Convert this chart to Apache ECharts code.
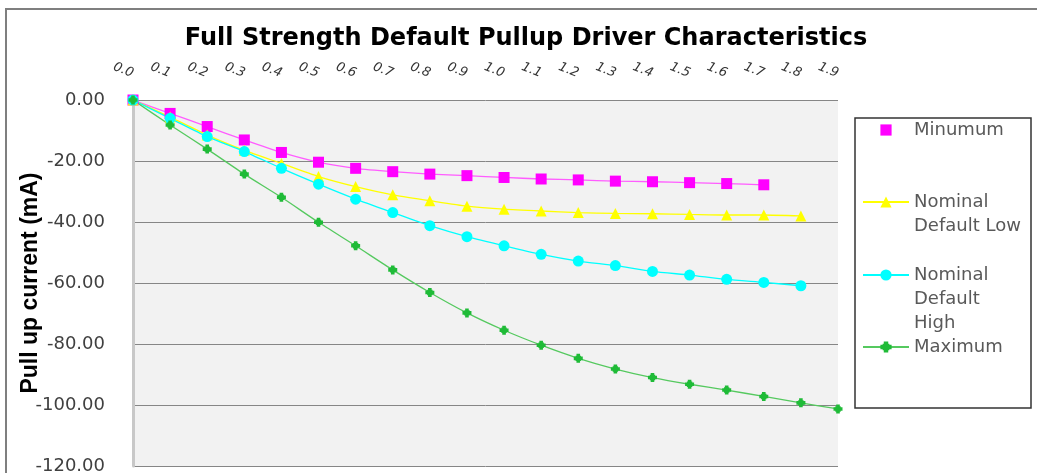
<!DOCTYPE html>
<html>
<head>
<meta charset="utf-8">
<style>
  html, body { margin: 0; padding: 0; background: #ffffff; }
  #chart { width: 1037px; height: 473px; }
</style>
<script src="https://cdn.jsdelivr.net/npm/echarts@6/dist/echarts.min.js"></script>
</head>
<body>
<div id="chart"></div>
<script>
// Drive voltage steps (V)
const categories = ['0.0', '0.1', '0.2', '0.3', '0.4', '0.5', '0.6', '0.7', '0.8', '0.9',
                    '1.0', '1.1', '1.2', '1.3', '1.4', '1.5', '1.6', '1.7', '1.8', '1.9'];

// Pull-up current (mA) for each corner
const minimum = [0, -4.4, -8.7, -13.1, -17.2, -20.4, -22.4, -23.5, -24.3, -24.8,
                 -25.4, -25.9, -26.2, -26.6, -26.8, -27.1, -27.4, -27.8];
const nominalLow = [0, -5.6, -11.5, -16.5, -20.8, -25.1, -28.4, -31.1, -33.0, -34.8,
                    -35.8, -36.4, -36.9, -37.2, -37.3, -37.5, -37.7, -37.7, -38.0];
const nominalHigh = [0, -6.0, -12.0, -16.9, -22.4, -27.6, -32.5, -36.9, -41.2, -44.8,
                     -47.8, -50.6, -52.8, -54.3, -56.2, -57.4, -58.8, -59.8, -60.9];
const maximum = [0, -8.2, -16.1, -24.3, -31.9, -40.1, -47.8, -55.7, -63.1, -69.8,
                 -75.5, -80.4, -84.7, -88.2, -91.0, -93.2, -95.1, -97.2, -99.3, -101.3];

const seriesNames = ['Minumum', 'Nominal Default Low', 'Nominal Default High', 'Maximum'];
// Wrapped legend text; leading blank lines keep the icon level with the first line
const legendText = {
  'Minumum': 'Minumum',
  'Nominal Default Low': '\nNominal\nDefault Low',
  'Nominal Default High': '\n\nNominal\nDefault\nHigh',
  'Maximum': 'Maximum'
};
const legendTops = [118, 166, 215, 335];

const chart = echarts.init(document.getElementById('chart'), null, { renderer: 'canvas' });

const legendFont = {
  fontFamily: 'DejaVu Sans',
  fontSize: 18,
  color: '#595959',
  lineHeight: 24
};

function makeLegend(i) {
  const item = { name: seriesNames[i] };
  if (i === 0) item.lineStyle = { opacity: 0 };
  return {
    orient: 'vertical',
    left: 862,
    top: legendTops[i],
    padding: 0,
    itemWidth: 46,
    itemHeight: 14,
    selectedMode: false,
    data: [item],
    formatter: (name) => legendText[name],
    textStyle: legendFont
  };
}

const option = {
  backgroundColor: '#ffffff',
  animation: false,
  title: {
    text: 'Full Strength Default Pullup Driver Characteristics',
    left: 526,
    textAlign: 'center',
    top: 27,
    padding: 0,
    textStyle: {
      fontFamily: 'DejaVu Sans',
      fontWeight: 'bold',
      fontSize: 24,
      color: '#000000'
    }
  },
  graphic: [
    {
      type: 'rect',
      shape: { x: 6, y: 9, width: 1100, height: 600 },
      style: { fill: null, stroke: '#7f7f7f', lineWidth: 2 },
      silent: true
    },
    {
      type: 'rect',
      shape: { x: 855, y: 118, width: 176, height: 290 },
      style: { fill: '#ffffff', stroke: '#333333', lineWidth: 1.5 },
      z: -1,
      silent: true
    }
  ],
  legend: [0, 1, 2, 3].map(makeLegend),
  grid: {
    left: 133,
    right: 199,
    top: 100,
    bottom: 7,
    outerBoundsMode: 'none',
    show: true,
    backgroundColor: '#f2f2f2',
    borderWidth: 0
  },
  xAxis: {
    type: 'category',
    position: 'top',
    data: categories,
    boundaryGap: false,
    axisLine: { show: false },
    axisTick: { show: false },
    splitLine: { show: false },
    axisLabel: {
      interval: 0,
      rotate: -22,
      margin: 26,
      fontFamily: 'DejaVu Sans',
      fontStyle: 'italic',
      fontSize: 13,
      color: '#333333'
    }
  },
  yAxis: {
    type: 'value',
    min: -120,
    max: 0,
    interval: 20,
    name: 'Pull up current (mA)',
    nameLocation: 'middle',
    nameRotate: 90,
    nameGap: 91,
    nameMoveOverlap: false,
    nameTextStyle: {
      fontFamily: 'Liberation Sans',
      fontWeight: 'bold',
      fontSize: 23,
      color: '#000000'
    },
    axisLine: { show: true, lineStyle: { color: '#c8c8c8', width: 3 } },
    axisTick: { show: false },
    splitLine: { show: true, lineStyle: { color: '#868686', width: 1 } },
    axisLabel: {
      margin: 28,
      fontFamily: 'DejaVu Sans',
      fontSize: 18,
      color: '#404040',
      formatter: (v) => v.toFixed(2)
    }
  },
  series: [
    {
      name: seriesNames[0],
      type: 'line',
      data: minimum,
      smooth: 0.2,
      symbol: 'rect',
      symbolSize: 11,
      itemStyle: { color: '#ff00ff' },
      lineStyle: { color: '#ff5cff', width: 1.3 }
    },
    {
      name: seriesNames[1],
      type: 'line',
      data: nominalLow,
      smooth: 0.2,
      symbol: 'triangle',
      symbolSize: 11,
      itemStyle: { color: '#ffff00' },
      lineStyle: { color: '#ffff00', width: 1.3 }
    },
    {
      name: seriesNames[2],
      type: 'line',
      data: nominalHigh,
      smooth: 0.2,
      symbol: 'circle',
      symbolSize: 11,
      itemStyle: { color: '#00ffff' },
      lineStyle: { color: '#00ffff', width: 1.3 }
    },
    {
      name: seriesNames[3],
      type: 'line',
      data: maximum,
      smooth: 0.2,
      symbol: 'path://M3,0H7V2H8V3H10V7H8V8H7V10H3V8H2V7H0V3H2V2H3Z',
      symbolSize: 9,
      itemStyle: { color: '#1fbb37' },
      lineStyle: { color: '#55c95f', width: 1.3 }
    }
  ]
};

chart.setOption(option);
</script>
</body>
</html>
